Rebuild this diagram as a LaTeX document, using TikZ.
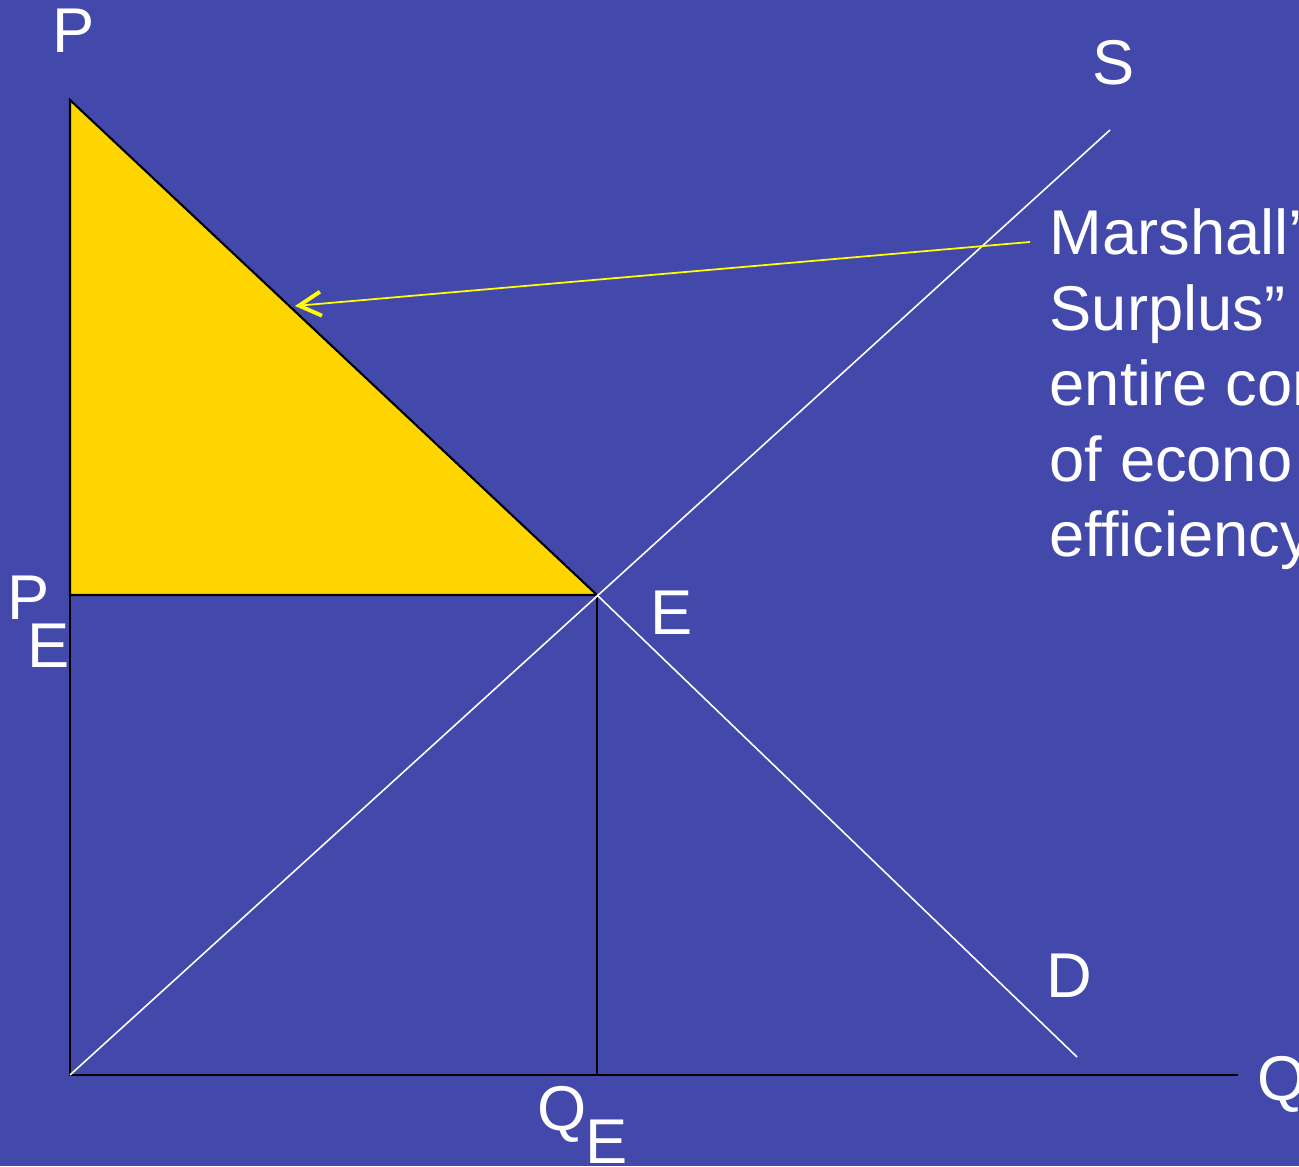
\documentclass[tikz,border=0pt]{standalone}
\usepackage{fontspec}
\setmainfont{Liberation Sans}
\usetikzlibrary{arrows.meta,positioning}
\definecolor{slideblue}{HTML}{4349AA}
\definecolor{surplusgold}{HTML}{FFD500}
\definecolor{pointeryellow}{HTML}{FFFF00}
\tikzset{
  axis/.style={draw=black, line width=0.6pt},
  curve/.style={draw=white, line width=0.45pt},
  lbl/.style={text=white, inner sep=0pt, anchor=base west, font=\fontsize{18}{21.6}\selectfont},
  note/.style={text=white, inner sep=0pt, anchor=north west, align=left, font=\fontsize{18}{21.5}\selectfont},
  pointer/.style={-{Straight Barb[length=2.2mm, width=2.4mm, line width=1.1pt]}, draw=pointeryellow, line width=0.5pt}
}

\begin{document}
\begin{tikzpicture}
  \clip (0,0) rectangle (12.99,11.66);
  \fill[slideblue] (0,0) rectangle (12.99,11.66);
  % key points
  \coordinate (o) at (0.70,0.91);
  \coordinate (ptop) at (0.70,10.66);
  \coordinate (pe) at (0.70,5.71);
  \coordinate (eq) at (5.97,5.71);
  \coordinate (qe) at (5.97,0.91);
  \coordinate (qend) at (12.38,0.91);
  \coordinate (send) at (11.10,10.36);
  \coordinate (dend) at (10.77,1.09);
  % surplus triangle and axes
  \filldraw[fill=surplusgold, draw=black, line width=0.6pt] (ptop) -- (pe) -- (eq) -- cycle;
  \draw[axis] (ptop) -- (o) -- (qend);
  \draw[axis] (eq) -- (qe);
  \draw[curve] (o) -- (send);
  \draw[curve] (eq) -- (dend);
  % labels
  \node[lbl] (plab) at (0.52,11.13) {P};
  \node[lbl] (slab) at (10.92,10.81) {S};
  \node[lbl] (pelab) at (0.07,5.46) {P};
  \node[lbl] (pesub) at (0.27,4.98) {E};
  \node[lbl] (elab) at (6.50,5.31) {E};
  \node[lbl] (dlab) at (10.46,1.69) {D};
  \node[lbl] (qelab) at (5.37,0.36) {Q};
  \node[lbl] (qesub) at (5.85,0.03) {E};
  \node[lbl] (qlab) at (12.57,0.66) {Q};
  \node[note] (surplus) at (10.49,9.58) {Marshall’s\\Surplus”\\entire con\\of econo\\efficiency};
  % pointer to the triangle
  \coordinate (pstart) at (10.30,9.24);
  \coordinate (ptip) at (2.95,8.60);
  \draw[pointer] (pstart) -- (ptip);
\end{tikzpicture}
\end{document}
